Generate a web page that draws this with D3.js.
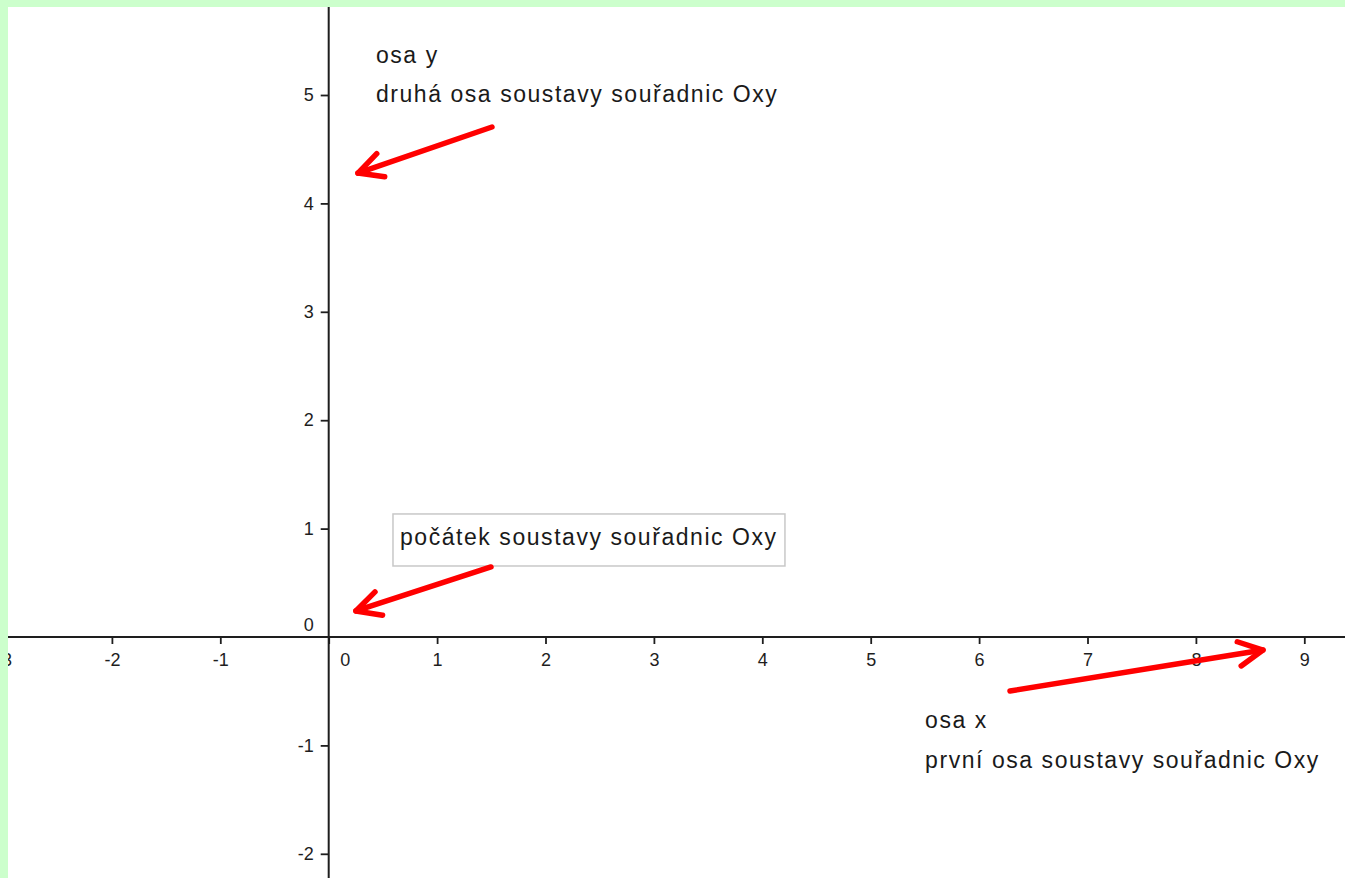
<!DOCTYPE html>
<html><head><meta charset="utf-8">
<script src="https://cdn.jsdelivr.net/npm/d3@7"></script>
<style>body{margin:0;background:#ccffcc;overflow:hidden}svg{display:block}</style>
</head><body>
<script>
// ---- data ----
const xDomain = [-3, 9];
const yDomain = [-2, 5];
const xTickValues = [-3, -2, -1, 0, 1, 2, 3, 4, 5, 6, 7, 8, 9];
const yTickValues = [-2, -1, 0, 1, 2, 3, 4, 5];
const textLabels = [
  {text: "osa y", x: 0.436, y: 5.295},
  {text: "druhá osa soustavy souřadnic Oxy", x: 0.436, y: 4.935},
  {text: "osa x", x: 5.502, y: -0.839},
  {text: "první osa soustavy souřadnic Oxy", x: 5.502, y: -1.208}
];
const boxLabel = {text: "počátek soustavy souřadnic Oxy", x: 0.658, y: 0.849, x0: 0.593, y0: 1.135, x1: 4.209, y1: 0.655};
const arrows = [
  {from: [1.506, 4.705], to: [0.270, 4.280]},
  {from: [1.497, 0.646], to: [0.251, 0.240]},
  {from: [6.285, -0.498], to: [8.619, -0.120]}
];

// ---- layout ----
const W = 1345, H = 878;
const unit = 108.4, ox = 328.7, oy = 637;
const x = d3.scaleLinear().domain(xDomain).range([ox + xDomain[0] * unit, ox + xDomain[1] * unit]);
const y = d3.scaleLinear().domain(yDomain).range([oy - yDomain[0] * unit, oy - yDomain[1] * unit]);

const svg = d3.select("body").append("svg").attr("width", W).attr("height", H);
svg.append("rect").attr("width", W).attr("height", H).attr("fill", "#ccffcc");
svg.append("defs").append("clipPath").attr("id", "plot")
  .append("rect").attr("x", 8).attr("y", 7).attr("width", W - 8).attr("height", H - 7);
svg.append("rect").attr("x", 8).attr("y", 7).attr("width", W - 8).attr("height", H - 7).attr("fill", "#fff");

const g = svg.append("g").attr("clip-path", "url(#plot)");
const font = "'Liberation Sans', Arial, sans-serif";

// x axis
const gx = g.append("g").attr("transform", `translate(0,${y(0)})`)
  .call(d3.axisBottom(x).tickValues(xTickValues).tickSizeInner(7).tickSizeOuter(0).tickPadding(9).tickFormat(d => String(d)));
gx.select(".domain").remove();
gx.attr("font-family", font).attr("font-size", 18).attr("color", "#1e1e1e");
gx.selectAll(".tick line").attr("stroke-width", 1.8);
gx.selectAll(".tick").filter(d => d === 0).select("text").attr("x", 16);

// y axis
const gy = g.append("g").attr("transform", `translate(${x(0)},0)`)
  .call(d3.axisLeft(y).tickValues(yTickValues).tickSizeInner(8).tickSizeOuter(0).tickPadding(7).tickFormat(d => String(d)));
gy.select(".domain").remove();
gy.attr("font-family", font).attr("font-size", 18).attr("color", "#1e1e1e");
gy.selectAll(".tick line").attr("stroke-width", 1.8);
gy.selectAll(".tick").filter(d => d === 0).select("line").remove();
gy.selectAll(".tick").filter(d => d === 0).select("text").attr("y", -12);

// axis lines (full extent)
g.append("line").attr("x1", 0).attr("x2", W).attr("y1", y(0)).attr("y2", y(0))
  .attr("stroke", "#1e1e1e").attr("stroke-width", 2);
g.append("line").attr("x1", x(0)).attr("x2", x(0)).attr("y1", 0).attr("y2", H)
  .attr("stroke", "#1e1e1e").attr("stroke-width", 2);

// text labels
g.selectAll("text.lbl").data(textLabels).join("text").attr("class", "lbl")
  .attr("x", d => x(d.x)).attr("y", d => y(d.y))
  .attr("font-family", font).attr("font-size", 23).attr("letter-spacing", 1.55)
  .attr("fill", "#1a1a1a").text(d => d.text);

// box label
g.append("rect").attr("x", x(boxLabel.x0)).attr("y", y(boxLabel.y0))
  .attr("width", x(boxLabel.x1) - x(boxLabel.x0)).attr("height", y(boxLabel.y1) - y(boxLabel.y0))
  .attr("fill", "#fff").attr("stroke", "#c8c8c8").attr("stroke-width", 1.5);
g.append("text").attr("x", x(boxLabel.x)).attr("y", y(boxLabel.y))
  .attr("font-family", font).attr("font-size", 23).attr("letter-spacing", 1.55)
  .attr("fill", "#1a1a1a").text(boxLabel.text);

// arrows
const headLen = 27, headAng = 27 * Math.PI / 180;
g.selectAll("g.arrow").data(arrows).join("g").attr("class", "arrow").each(function(d) {
  const sel = d3.select(this);
  const tx = x(d.to[0]), ty = y(d.to[1]), fx = x(d.from[0]), fy = y(d.from[1]);
  const a = Math.atan2(fy - ty, fx - tx);
  sel.append("line").attr("x1", fx).attr("y1", fy).attr("x2", tx).attr("y2", ty)
    .attr("stroke", "#ff0000").attr("stroke-width", 5.5).attr("stroke-linecap", "round");
  const p1 = [tx + headLen * Math.cos(a + headAng), ty + headLen * Math.sin(a + headAng)];
  const p2 = [tx + headLen * Math.cos(a - headAng), ty + headLen * Math.sin(a - headAng)];
  sel.append("path").attr("d", `M${p1[0]},${p1[1]}L${tx},${ty}L${p2[0]},${p2[1]}`)
    .attr("fill", "none").attr("stroke", "#ff0000").attr("stroke-width", 5.5)
    .attr("stroke-linecap", "round").attr("stroke-linejoin", "round");
});
</script>
</body></html>
